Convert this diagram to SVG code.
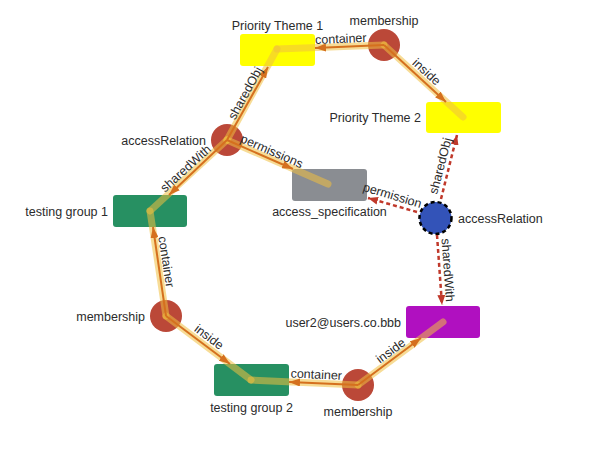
<svg xmlns="http://www.w3.org/2000/svg" width="597" height="449" viewBox="0 0 597 449">
<style>
text{font-family:"Liberation Sans",Arial,sans-serif;font-size:12.5px;fill:#2b2b2b}
.red{fill:#bb4838}
.box{stroke:none}
.halo{fill:none;stroke:#f0c040;stroke-opacity:0.55;stroke-width:7;stroke-linecap:round;stroke-linejoin:round}
.line{fill:none;stroke:#d5701e;stroke-width:2}
.dash{fill:none;stroke:#c0392b;stroke-width:2.5;stroke-dasharray:4,3}
</style>
<defs>
<marker id="ao" viewBox="0 0 11 8" refX="11" refY="4" markerWidth="11" markerHeight="8" markerUnits="userSpaceOnUse" orient="auto"><path d="M0,0 L11,4 L0,8 z" fill="#d5701e"/></marker>
<marker id="ar" viewBox="0 0 10 8" refX="10" refY="4" markerWidth="10" markerHeight="8" markerUnits="userSpaceOnUse" orient="auto"><path d="M0,0 L10,4 L0,8 z" fill="#c0392b"/></marker>
</defs>
<rect width="597" height="449" fill="#ffffff"/>

<g id="priority-theme-1"><rect class="box" x="240" y="34" width="75" height="32" rx="3" fill="#ffff00"/><text x="277.5" y="30" text-anchor="middle">Priority Theme 1</text></g>
<g id="priority-theme-2"><rect class="box" x="426" y="102" width="75" height="31" rx="3" fill="#ffff00"/><text x="421" y="122" text-anchor="end">Priority Theme 2</text></g>
<g id="access-specification"><rect class="box" x="292" y="169" width="75" height="32" rx="3" fill="#8a8d92"/><text x="329.5" y="215.5" text-anchor="middle">access_specification</text></g>
<g id="testing-group-1"><rect class="box" x="113" y="195" width="74" height="32" rx="3" fill="#279062"/><text x="108" y="216" text-anchor="end">testing group 1</text></g>
<g id="testing-group-2"><rect class="box" x="214" y="364" width="75" height="32" rx="3" fill="#279062"/><text x="251.5" y="411.5" text-anchor="middle">testing group 2</text></g>
<g id="user2"><rect class="box" x="406" y="306" width="74" height="32" rx="3" fill="#b010c0"/><text x="401" y="327" text-anchor="end">user2@users.co.bbb</text></g>
<g id="membership-top"><circle class="red" cx="384" cy="45" r="16"/><text x="384" y="25" text-anchor="middle">membership</text></g>
<g id="access-relation-1"><circle class="red" cx="227" cy="140" r="16"/><text x="206" y="145" text-anchor="end">accessRelation</text></g>
<g id="membership-left"><circle class="red" cx="166" cy="316" r="16"/><text x="145" y="321" text-anchor="end">membership</text></g>
<g id="membership-bottom"><circle class="red" cx="358" cy="385" r="16"/><text x="358" y="415.5" text-anchor="middle">membership</text></g>
<g id="access-relation-2"><circle cx="435.5" cy="218" r="16" fill="#3353b8" stroke="#000" stroke-width="2.5" stroke-dasharray="4,3"/><text x="458" y="222.5">accessRelation</text></g>

<g id="connectors">
<g class="halos">
<path class="halo" d="M384,45 L277,49"/>
<path class="halo" d="M384,45 L463,117"/>
<path class="halo" d="M227,140 L277,49"/>
<path class="halo" d="M227,140 L328,184"/>
<path class="halo" d="M227,140 L150,211"/>
<path class="halo" d="M166,316 L150,211"/>
<path class="halo" d="M166,316 L251,380"/>
<path class="halo" d="M358,385 L251,380"/>
<path class="halo" d="M358,385 L443,322"/>
</g>
<path class="line" d="M384,45 L315,48" marker-end="url(#ao)"/>
<path class="line" d="M384,45 L446,102" marker-end="url(#ao)"/>
<path class="line" d="M227,140 L268,67" marker-end="url(#ao)"/>
<path class="line" d="M227,140 L293,169" marker-end="url(#ao)"/>
<path class="line" d="M227,140 L169,195" marker-end="url(#ao)"/>
<path class="line" d="M166,316 L153,227" marker-end="url(#ao)"/>
<path class="line" d="M166,316 L230,364" marker-end="url(#ao)"/>
<path class="line" d="M358,385 L289,382" marker-end="url(#ao)"/>
<path class="line" d="M358,385 L421,338" marker-end="url(#ao)"/>
<path class="dash" d="M441,199 L457,135" marker-end="url(#ar)"/>
<path class="dash" d="M417,212 L368,198" marker-end="url(#ar)"/>
<path class="dash" d="M437,235 L442,305" marker-end="url(#ar)"/>
<text x="341" y="43" text-anchor="middle" transform="rotate(-2.5 341 43)">container</text>
<text x="423.7" y="75" text-anchor="middle" transform="rotate(42.3 423.7 75)">inside</text>
<text x="248.9" y="95.2" text-anchor="middle" transform="rotate(-61.2 248.9 95.2)">sharedObj</text>
<text x="270.2" y="155.1" text-anchor="middle" transform="rotate(23.5 270.2 155.1)">permissions</text>
<text x="188.5" y="171.5" text-anchor="middle" transform="rotate(-42.3 188.5 171.5)">sharedWith</text>
<text x="162.2" y="262.4" text-anchor="middle" transform="rotate(81.4 162.2 262.4)">container</text>
<text x="206.5" y="340.3" text-anchor="middle" transform="rotate(37 206.5 340.3)">inside</text>
<text x="316.1" y="378.7" text-anchor="middle" transform="rotate(2.7 316.1 378.7)">container</text>
<text x="393.2" y="354.1" text-anchor="middle" transform="rotate(-36.5 393.2 354.1)">inside</text>
<text x="444.4" y="166.9" text-anchor="middle" transform="rotate(-75.3 444.4 166.9)">sharedObj</text>
<text x="391.2" y="199.3" text-anchor="middle" transform="rotate(16.6 391.2 199.3)">permission</text>
<text x="443.8" y="270.3" text-anchor="middle" transform="rotate(86 443.8 270.3)">sharedWith</text>
</g>
</svg>
